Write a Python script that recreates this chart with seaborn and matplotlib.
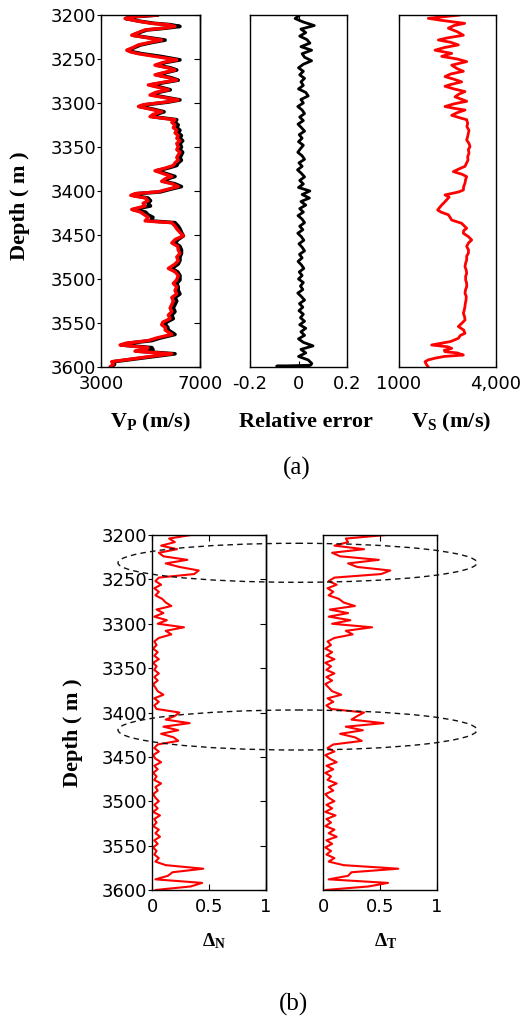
import numpy as np
import pandas as pd
import matplotlib
matplotlib.use('Agg')
import matplotlib.pyplot as plt
import seaborn as sns
from matplotlib.patches import Ellipse

# ---------------- data ----------------
depth_ticks = [3200, 3250, 3300, 3350, 3400, 3450, 3500, 3550, 3600]

vp_depth = [3200, 3202, 3204, 3207, 3209.5, 3211, 3213, 3215, 3217, 3220,
            3223, 3226, 3228.5, 3231, 3234, 3237, 3240, 3242, 3244, 3247,
            3251, 3254, 3257, 3260, 3262.5, 3265, 3268, 3271, 3274, 3277,
            3279.5, 3282, 3285, 3288, 3291, 3294, 3296.5, 3299, 3302, 3304,
            3307, 3310, 3313, 3315.5, 3319, 3322, 3325, 3328, 3331, 3334,
            3337, 3340, 3343, 3346, 3350, 3353, 3356, 3359, 3362, 3365,
            3368, 3371, 3374, 3377, 3380, 3383.5, 3386, 3389, 3392, 3395,
            3398, 3401, 3403, 3405, 3408, 3411, 3414, 3417, 3421, 3424,
            3427, 3430, 3434, 3436, 3440, 3443, 3447, 3451, 3455, 3459,
            3463, 3467, 3471, 3475, 3479, 3483, 3488, 3492, 3496, 3501,
            3505, 3509, 3513, 3517, 3521, 3525, 3529, 3533, 3537, 3541,
            3545, 3549, 3552, 3555, 3558, 3563, 3567, 3570, 3573, 3575,
            3578, 3580, 3582, 3585, 3588, 3591, 3594, 3597, 3600]

vp_est = [5300, 4300, 3970, 4500, 5050, 5700, 5990, 5500, 4780, 4500,
          4240, 4900, 5450, 5000, 4510, 4300, 4040, 4200, 4510, 5180,
          6060, 5500, 5180, 5700, 5990, 5600, 5180, 5700, 6060, 5400,
          4910, 5300, 5720, 5200, 4980, 5600, 6120, 5600, 4700, 4510,
          5000, 5450, 5100, 4980, 5990, 5860, 5990, 5920, 6060, 5990,
          6120, 6060, 6190, 6060, 6120, 6060, 6190, 6120, 6060, 6120,
          5990, 5920, 5600, 5180, 5500, 5860, 5600, 5450, 5900, 6120,
          5700, 5300, 4370, 4200, 4800, 4900, 4700, 4780, 4240, 4600,
          4750, 4910, 4780, 5860, 5990, 6060, 6190, 6330, 6000, 5860,
          6100, 6120, 6190, 6060, 6120, 5990, 5720, 6000, 6120, 6060,
          5920, 6060, 5990, 6060, 5860, 5920, 5860, 5790, 5860, 5720,
          5790, 5500, 5450, 5600, 5590, 5860, 5250, 4910, 4000, 3770,
          4900, 4800, 4370, 5860, 5000, 4200, 3430, 3500, 3360]

vp_true = [5300, 4350, 4000, 4550, 5150, 5800, 6190, 5600, 4850, 4550,
           4280, 5000, 5590, 5100, 4600, 4350, 4080, 4300, 4650, 5400,
           6190, 5600, 5250, 5800, 6060, 5700, 5250, 5800, 6120, 5500,
           5000, 5400, 5800, 5300, 5100, 5700, 6190, 5700, 4800, 4560,
           5100, 5550, 5200, 5080, 6060, 5990, 6120, 6060, 6190, 6120,
           6250, 6190, 6300, 6190, 6250, 6190, 6300, 6250, 6190, 6250,
           6120, 6060, 5700, 5250, 5600, 5990, 5700, 5550, 6000, 6250,
           5800, 5400, 4450, 4300, 4900, 5000, 4900, 5000, 4300, 4800,
           4900, 5100, 5000, 5990, 6120, 6190, 6250, 6330, 6120, 5990,
           6190, 6250, 6250, 6190, 6190, 6120, 5860, 6100, 6190, 6190,
           6060, 6120, 6120, 6190, 5990, 6060, 5990, 5920, 5990, 5860,
           5920, 5650, 5600, 5700, 5720, 5990, 5400, 5050, 4100, 3850,
           5050, 5100, 4500, 5990, 5150, 4300, 3500, 3550, 3400]

err_depth = [3200, 3204, 3208, 3212, 3216, 3220, 3224, 3228, 3232, 3236,
             3240, 3244, 3248, 3252, 3256, 3260, 3264, 3268, 3272, 3276,
             3280, 3284, 3288, 3292, 3296, 3300, 3304, 3308, 3312, 3316,
             3320, 3324, 3328, 3332, 3336, 3340, 3344, 3348, 3352, 3356,
             3360, 3364, 3368, 3372, 3376, 3380, 3384, 3388, 3392, 3396,
             3400, 3404, 3408, 3412, 3416, 3420, 3424, 3428, 3432, 3436,
             3440, 3444, 3448, 3452, 3456, 3460, 3464, 3468, 3472, 3476,
             3480, 3484, 3488, 3492, 3496, 3500, 3504, 3508, 3512, 3516,
             3520, 3524, 3528, 3532, 3536, 3540, 3544, 3548, 3552, 3556,
             3560, 3564, 3568, 3572, 3576, 3580, 3584, 3588, 3592, 3596,
             3598, 3599, 3600]

rel_error = [0.005, -0.014, 0.02, 0.065, 0.01, 0.03, 0.005, 0.035, 0.047, 0.01,
             0.054, 0.015, 0.025, 0.054, 0.02, 0.0, 0.02, 0.005, 0.025, 0.01,
             0.02, 0.0, 0.03, 0.04, 0.01, 0.02, -0.003, 0.015, 0.025, 0.005,
             0.02, -0.002, 0.012, 0.025, 0.003, 0.015, 0.0, 0.02, 0.008, -0.003,
             0.015, 0.025, 0.002, 0.015, -0.004, 0.012, 0.025, 0.005, 0.02, 0.0,
             0.047, 0.015, 0.045, 0.01, 0.03, 0.005, 0.02, -0.002, 0.015, 0.025,
             0.005, 0.018, -0.003, 0.012, 0.022, 0.002, 0.015, 0.025, 0.004, 0.015,
             -0.002, 0.012, 0.022, 0.003, 0.015, 0.0, 0.02, 0.008, 0.018, -0.003,
             0.012, 0.025, 0.004, 0.018, 0.002, 0.02, 0.008, 0.025, 0.005, 0.03,
             0.01, 0.025, 0.0, 0.02, 0.06, 0.01, 0.03, 0.0, 0.04, 0.055,
             0.05, -0.09, 0.04]

vs_depth = [3200, 3203.8, 3206, 3209.5, 3212, 3215, 3219, 3223, 3226, 3228.4,
            3231, 3234, 3237, 3240, 3243.6, 3247, 3250, 3253, 3257, 3261,
            3264, 3267, 3270, 3273, 3276, 3279, 3281, 3284, 3287, 3290,
            3293, 3296, 3298, 3301, 3304, 3306, 3308, 3311, 3314, 3317,
            3319, 3323, 3327, 3331, 3334.5, 3338, 3342, 3346, 3349.6, 3353,
            3357, 3361, 3364.8, 3368, 3372, 3375, 3378, 3381, 3383.7, 3387,
            3391, 3395, 3398.9, 3401, 3404.5, 3407, 3410, 3413, 3416, 3419,
            3421.6, 3424, 3427, 3430, 3433, 3436.7, 3439, 3442.4, 3445, 3448,
            3452, 3455.7, 3459, 3463, 3467, 3470.8, 3474, 3478.4, 3482, 3486,
            3490, 3493.6, 3497, 3501, 3505, 3508.7, 3512, 3516, 3520, 3524,
            3528, 3531, 3535, 3539, 3543, 3546.6, 3550, 3554, 3558, 3561.7,
            3564, 3567.4, 3571, 3575, 3577, 3578.8, 3581, 3582.6, 3584, 3586.4,
            3588, 3590, 3592, 3594, 3597.7, 3600]

vs = [2887, 1907, 2300, 3031, 2700, 2526, 2800, 2990, 2500, 2217,
      2600, 2835, 2400, 2113, 2629, 2320, 2800, 3093, 2629, 2800,
      2990, 2600, 2423, 2700, 2938, 2600, 2423, 2700, 3041, 2850,
      2732, 2950, 3093, 2700, 2423, 2700, 3041, 2800, 2629, 2900,
      3093, 3124, 3100, 3165, 3144, 3124, 3093, 3165, 3196, 3144,
      3165, 3124, 3134, 3093, 3041, 2850, 2681, 2950, 3093, 3060,
      3041, 3000, 2990, 2850, 2423, 2550, 2474, 2400, 2320, 2250,
      2196, 2300, 2526, 2580, 2629, 2938, 3000, 3093, 3000, 2990,
      3150, 3248, 3150, 3093, 3150, 3144, 3093, 3093, 3060, 3041,
      3080, 3093, 3060, 3062, 3093, 3093, 3060, 3041, 3080, 3072,
      3050, 3041, 3020, 2990, 3030, 3041, 2950, 2835, 3000, 3041,
      2900, 2835, 2600, 2010, 2500, 2629, 2400, 2423, 2800, 2990,
      2400, 2113, 1900, 1804, 1856, 1907]

delta_depth = [3200, 3204, 3208, 3212, 3216, 3220, 3224, 3228, 3232, 3236,
               3240, 3244, 3248, 3252, 3256, 3260, 3264, 3268, 3272, 3276,
               3280, 3284, 3288, 3292, 3296, 3300, 3304, 3308, 3312, 3316,
               3320, 3324, 3328, 3332, 3336, 3340, 3344, 3348, 3352, 3356,
               3360, 3364, 3368, 3372, 3376, 3380, 3384, 3388, 3392, 3396,
               3400, 3404, 3408, 3412, 3416, 3420, 3424, 3428, 3432, 3436,
               3440, 3444, 3448, 3452, 3456, 3460, 3464, 3468, 3472, 3476,
               3480, 3484, 3488, 3492, 3496, 3500, 3504, 3508, 3512, 3516,
               3520, 3524, 3528, 3532, 3536, 3540, 3544, 3548, 3552, 3556,
               3560, 3564, 3568, 3572, 3576, 3580, 3584, 3588, 3592, 3596,
               3600]

delta_n = [0.34, 0.15, 0.20, 0.08, 0.22, 0.06, 0.10, 0.31, 0.12, 0.24,
           0.41, 0.37, 0.06, 0.03, 0.08, 0.02, 0.06, 0.03, 0.09, 0.12,
           0.17, 0.04, 0.10, 0.02, 0.13, 0.05, 0.28, 0.12, 0.17, 0.06,
           0.02, 0.04, 0.01, 0.05, 0.02, 0.06, 0.01, 0.04, 0.02, 0.06,
           0.02, 0.05, 0.01, 0.03, 0.05, 0.10, 0.02, 0.06, 0.02, 0.04,
           0.24, 0.20, 0.12, 0.33, 0.10, 0.23, 0.08, 0.19, 0.23, 0.05,
           0.02, 0.06, 0.01, 0.03, 0.08, 0.02, 0.05, 0.01, 0.04, 0.02,
           0.08, 0.03, 0.05, 0.01, 0.03, 0.06, 0.02, 0.05, 0.01, 0.07,
           0.02, 0.04, 0.01, 0.06, 0.03, 0.07, 0.02, 0.05, 0.01, 0.04,
           0.02, 0.06, 0.03, 0.12, 0.45, 0.18, 0.14, 0.03, 0.44, 0.34,
           0.03]

delta_t = [0.55, 0.20, 0.22, 0.10, 0.36, 0.08, 0.15, 0.49, 0.22, 0.30,
           0.59, 0.51, 0.10, 0.05, 0.12, 0.04, 0.09, 0.05, 0.14, 0.18,
           0.28, 0.06, 0.22, 0.05, 0.24, 0.08, 0.43, 0.20, 0.26, 0.10,
           0.04, 0.07, 0.02, 0.08, 0.03, 0.10, 0.02, 0.07, 0.03, 0.10,
           0.03, 0.08, 0.02, 0.05, 0.08, 0.16, 0.04, 0.09, 0.03, 0.07,
           0.36, 0.30, 0.25, 0.53, 0.20, 0.35, 0.15, 0.28, 0.34, 0.09,
           0.04, 0.10, 0.02, 0.06, 0.12, 0.03, 0.09, 0.02, 0.07, 0.04,
           0.12, 0.05, 0.09, 0.02, 0.05, 0.10, 0.03, 0.08, 0.02, 0.11,
           0.03, 0.07, 0.02, 0.10, 0.05, 0.12, 0.03, 0.08, 0.02, 0.07,
           0.03, 0.10, 0.05, 0.18, 0.66, 0.25, 0.22, 0.05, 0.57, 0.40,
           0.02]

# ---------------- style ----------------
sns.set_style('white')
plt.rcParams['font.family'] = ['DejaVu Sans']
plt.rcParams['mathtext.fontset'] = 'custom'
plt.rcParams['mathtext.rm'] = 'Liberation Serif'
plt.rcParams['mathtext.bf'] = 'Liberation Serif:bold'
plt.rcParams['mathtext.it'] = 'Liberation Serif:italic'
for key in ['text.color', 'axes.labelcolor', 'xtick.color', 'ytick.color', 'axes.edgecolor']:
    plt.rcParams[key] = 'black'

W, H = 524, 1019
fig = plt.figure(figsize=(W / 100, H / 100), dpi=100)
fig.patch.set_facecolor('white')


def box(l, t, r, b):
    return [l / W, 1 - b / H, (r - l) / W, (b - t) / H]


def style(ax, xlim, xticks, xlabels, ylabels):
    ax.set_xlim(xlim)
    ax.set_ylim(3600, 3200)
    ax.set_xticks(xticks)
    ax.set_xticklabels(xlabels)
    ax.set_xlabel('')
    ax.set_ylabel('')
    for s in ax.spines.values():
        s.set_visible(True)
        s.set_color('black')
        s.set_linewidth(1.0)
    ax.tick_params(axis='x', direction='in', top=True, bottom=True,
                   length=4, width=0.8, labelsize=13, pad=6, colors='black')
    if ylabels:
        ax.set_yticks(depth_ticks)
        ax.set_yticklabels([str(t) for t in depth_ticks])
        ax.tick_params(axis='y', direction='out', left=True, right=False,
                       length=3, width=0.8, labelsize=13, pad=0.5, colors='black')
        sec = ax.secondary_yaxis('right')
        sec.set_yticks(depth_ticks)
        sec.tick_params(direction='in', length=4, width=0.8, labelright=False, colors='black')
        sec.spines['right'].set_linewidth(1.0)
    else:
        ax.set_yticks([])


# ---- (a) ----
ax1 = fig.add_axes(box(101, 15, 200, 367))
sns.lineplot(x=vp_true, y=vp_depth, sort=False, estimator=None, color='black', lw=2.6, ax=ax1)
sns.lineplot(x=vp_est, y=vp_depth, sort=False, estimator=None, color='#ff0000', lw=2.4, ax=ax1)
style(ax1, (3000, 7000), [3000, 7000], ['3000', '7000'], True)

ax2 = fig.add_axes(box(250, 15, 347, 367))
sns.lineplot(x=rel_error, y=err_depth, sort=False, estimator=None, color='black', lw=2.0, ax=ax2)
style(ax2, (-0.2, 0.2), [-0.2, 0, 0.2], ['-0.2', '0', '0.2'], False)

ax3 = fig.add_axes(box(399, 15, 496, 367))
sns.lineplot(x=vs, y=vs_depth, sort=False, estimator=None, color='#ff0000', lw=2.0, ax=ax3)
style(ax3, (1000, 4000), [1000, 4000], ['1000', '4,000'], False)

# ---- (b) ----
ax4 = fig.add_axes(box(152, 535, 266, 890))
sns.lineplot(x=delta_n, y=delta_depth, sort=False, estimator=None, color='#ff0000', lw=1.5, ax=ax4)
style(ax4, (0, 1), [0, 0.5, 1], ['0', '0.5', '1'], True)

ax5 = fig.add_axes(box(323, 535, 437, 890))
sns.lineplot(x=delta_t, y=delta_depth, sort=False, estimator=None, color='#ff0000', lw=1.5, ax=ax5)
style(ax5, (0, 1), [0, 0.5, 1], ['0', '0.5', '1'], False)

# ---- texts ----
serif = 'Liberation Serif'


def ftext(x, y, s, size, bold=True, rot=0):
    fig.text(x / W, 1 - y / H, s, ha='center', va='center', rotation=rot,
             fontsize=size, family=serif, color='black',
             fontweight='bold' if bold else 'normal')


ftext(20, 206, 'Depth ( m )', 16, rot=90)
ftext(151, 422, r'V$_\mathbf{P}$ (m/s)', 16)
ftext(306, 422, 'Relative error', 16)
ftext(451, 422, r'V$_\mathbf{S}$ (m/s)', 16)
ftext(297, 468, '(a)', 18, bold=False)

ftext(73, 733, 'Depth ( m )', 16, rot=90)
ftext(214, 941, r'Δ$_\mathbf{N}$', 14)
ftext(386, 941, r'Δ$_\mathbf{T}$', 14)
ftext(293, 1004, '(b)', 18, bold=False)

# ---- dashed ellipses highlighting anomalies ----
ov = fig.add_axes([0, 0, 1, 1], zorder=10)
ov.set_xlim(0, W)
ov.set_ylim(H, 0)
ov.axis('off')
ov.patch.set_alpha(0)
for cy, h in [(562.8, 39), (730, 40)]:
    ov.add_patch(Ellipse((297.5, cy), 359, h, fill=False, ls=(0, (4, 3)),
                         lw=1.0, ec='#111111'))

fig.savefig('out.png', dpi=100, facecolor='white')
